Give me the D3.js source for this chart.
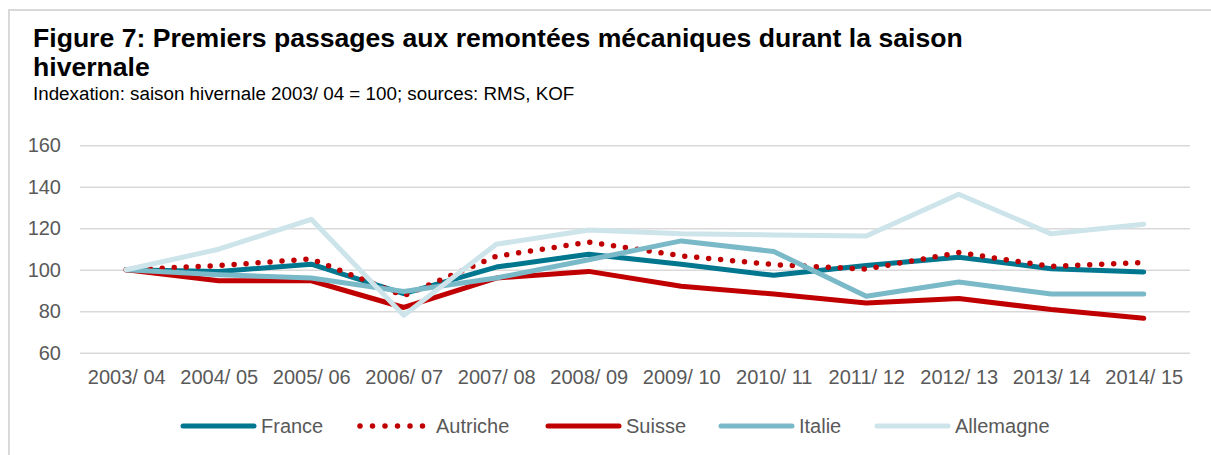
<!DOCTYPE html>
<html>
<head>
<meta charset="utf-8">
<script src="https://cdn.jsdelivr.net/npm/d3@7"></script>
<style>
  body { margin: 0; background: #fff; }
  text { font-family: "Liberation Sans", Arial, sans-serif; }
</style>
</head>
<body>
<div id="chart"></div>
<script>
const layout = {
    width: 1211,
    height: 455,
    left: 80,
    right: 1190,
    top: 145.3,
    bottom: 352.7
};

// seasons on the x axis
const seasons = ["2003/ 04", "2004/ 05", "2005/ 06", "2006/ 07", "2007/ 08", "2008/ 09",
    "2009/ 10", "2010/ 11", "2011/ 12", "2012/ 13", "2013/ 14", "2014/ 15"];
const yTicks = [60, 80, 100, 120, 140, 160];

// index values, 2003/04 = 100
const france    = [100, 99.2, 102.7, 88.5, 101.3, 107.5, 102.7, 97.3, 102, 106, 100.5, 98.9];
const autriche  = [100, 102, 105.2, 87.5, 106.5, 113.3, 106.7, 102.5, 100.3, 108.3, 101.6, 103.5];
const suisse    = [100, 94.7, 94.7, 81.8, 96, 99.2, 92, 88.3, 84, 86.1, 80.8, 76.6];
const italie    = [100, 97.6, 96, 89.5, 96, 104.8, 113.9, 108.8, 87.2, 94.1, 88.3, 88.3];
const allemagne = [100, 109.9, 124.3, 78, 112.3, 119.2, 117.3, 116.8, 116.3, 136.4, 117.3, 121.9];

const seriesNames = ["France", "Autriche", "Suisse", "Italie", "Allemagne"];
const seriesValues = [france, autriche, suisse, italie, allemagne];
const seriesColors = ["#00778f", "#c00000", "#c00000", "#7ab9c8", "#cce4ea"];

let svg = d3.select("#chart").append("svg")
    .attr("width", layout.width)
    .attr("height", layout.height);

// frame
svg.append("path")
    .attr("d", "M9,455 V10 H1211")
    .attr("fill", "none")
    .attr("stroke", "#d9d9d9")
    .attr("stroke-width", 2);

// title
svg.append("text")
    .attr("x", 33).attr("y", 47)
    .attr("font-size", 26.6).attr("font-weight", "bold").attr("fill", "#000")
    .text("Figure 7: Premiers passages aux remontées mécaniques durant la saison");
svg.append("text")
    .attr("x", 33).attr("y", 76)
    .attr("font-size", 26.6).attr("font-weight", "bold").attr("fill", "#000")
    .text("hivernale");
svg.append("text")
    .attr("x", 33).attr("y", 99.5)
    .attr("font-size", 18.8).attr("fill", "#000")
    .text("Indexation: saison hivernale 2003/ 04 = 100; sources: RMS, KOF");

let x = d3.scalePoint()
    .domain(seasons)
    .range([layout.left, layout.right])
    .padding(0.5);
let y = d3.scaleLinear()
    .domain([60, 160])
    .range([layout.bottom, layout.top]);

// grid lines
let yAxis = svg.append("g")
    .attr("transform", `translate(${layout.left},0)`)
    .call(d3.axisLeft(y).tickValues(yTicks).tickSize(-(layout.right - layout.left)).tickPadding(19));
yAxis.select(".domain").remove();
yAxis.selectAll("line").attr("stroke", "#d9d9d9").attr("stroke-width", 1.5);
yAxis.selectAll("text")
    .attr("fill", "#595959")
    .attr("font-size", 20)
    .attr("font-family", "Liberation Sans, Arial, sans-serif");

// x axis labels
let xAxis = svg.append("g")
    .attr("transform", `translate(0,${layout.bottom})`)
    .call(d3.axisBottom(x).tickSize(0).tickPadding(17));
xAxis.select(".domain").remove();
xAxis.selectAll("text")
    .attr("fill", "#595959")
    .attr("font-size", 20)
    .attr("font-family", "Liberation Sans, Arial, sans-serif");

// lines
let line = d3.line()
    .x((d, i) => x(seasons[i]))
    .y(d => y(d));

for (let i = 0; i < seriesNames.length; i++) {
    let p = svg.append("path")
        .datum(seriesValues[i])
        .attr("fill", "none")
        .attr("stroke", seriesColors[i])
        .attr("stroke-linecap", "round")
        .attr("stroke-linejoin", "round")
        .attr("d", line);
    if (seriesNames[i] === "Autriche") {
        p.attr("stroke-width", 5.5).attr("stroke-dasharray", "0 12");
    } else {
        p.attr("stroke-width", 5);
    }
}

// legend
const legendLineX = [183, 360, 548, 721, 877];
let legend = svg.append("g");
for (let i = 0; i < seriesNames.length; i++) {
    let lx = legendLineX[i];
    let item = legend.append("line")
        .attr("x1", lx).attr("x2", lx + (seriesNames[i] === "Autriche" ? 65 : 71))
        .attr("y1", 426).attr("y2", 426)
        .attr("stroke", seriesColors[i])
        .attr("stroke-linecap", "round");
    if (seriesNames[i] === "Autriche") {
        item.attr("stroke-width", 5.5).attr("stroke-dasharray", "0 12.5");
    } else {
        item.attr("stroke-width", 5);
    }
    legend.append("text")
        .attr("x", lx + (seriesNames[i] === "Autriche" ? 76 : 78))
        .attr("y", 433)
        .attr("font-size", 20)
        .attr("fill", "#595959")
        .text(seriesNames[i]);
}
</script>
</body>
</html>
